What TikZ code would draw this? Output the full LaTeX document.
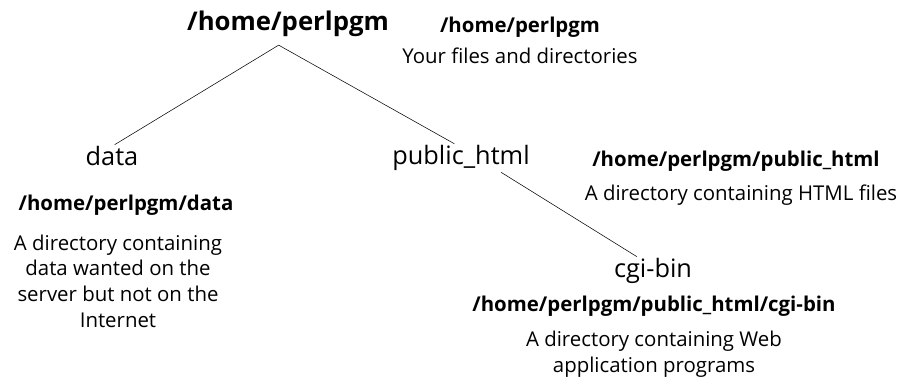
\documentclass[tikz,border=0pt]{standalone}
\usepackage{fontspec}
\setmainfont{Open Sans}

\begin{document}
\begin{tikzpicture}[x=0.75pt, y=-0.75pt,
    dir/.style={inner sep=1pt, font=\fontsize{19}{22}\selectfont},
    dirpath/.style={inner sep=1pt, font=\bfseries\fontsize{15.3}{18}\selectfont},
    note/.style={inner sep=1pt, align=center, font=\fontsize{15.3}{19.2}\selectfont}]
    \useasboundingbox (0,0) rectangle (908,379);
    % the tree
    \node[inner sep=1pt, font=\bfseries\fontsize{19.3}{22}\selectfont] (root) at (288,24) {/home/perlpgm};
    \node[dir] (data) at (112,156) {data};
    \node[dir] (pub) at (461,158) {public\_html};
    \node[dir] (cgi) at (653,271) {cgi-bin};
    \draw ([xshift=-7pt, yshift=-5pt]root.south) -- ([xshift=2pt]data.north);
    \draw ([xshift=-7pt, yshift=-5pt]root.south) -- ([xshift=-5pt]pub.north);
    \draw ([xshift=30pt]pub.south) -- ([xshift=-12pt]cgi.north);
    % what each directory is
    \node[dirpath] (rootpath) at (520,27) {/home/perlpgm};
    \node[note] (rootnote) at (520,56) {Your files and directories};
    \node[dirpath] (datapath) at (126,205) {/home/perlpgm/data};
    \node[note] (datanote) at (118,281) {A directory containing\\data wanted on the\\server but not on the\\Internet};
    \node[dirpath] (pubpath) at (736,161) {/home/perlpgm/public\_html};
    \node[note] (pubnote) at (741,195) {A directory containing HTML files};
    \node[dirpath] (cgipath) at (654,306) {/home/perlpgm/public\_html/cgi-bin};
    \node[note] (cginote) at (654,354) {A directory containing Web\\application programs};
\end{tikzpicture}
\end{document}
